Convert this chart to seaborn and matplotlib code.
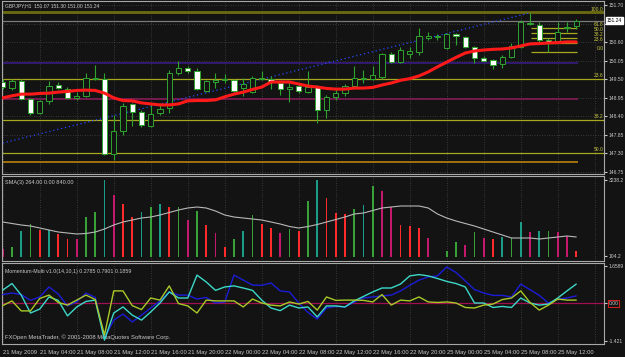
import numpy as np
import matplotlib
matplotlib.use("Agg")
import matplotlib.pyplot as plt
import matplotlib.transforms as mtrans
import seaborn as sns

# ---- data (GBPJPY H1, 21-25 May 2009) ----
opens = [149.42, 149.24, 149.45, 148.92, 148.50, 148.86, 149.33, 149.21, 148.95, 149.01,
         149.51, 149.51, 147.28, 147.97, 148.77, 148.53, 148.12, 148.50, 148.65, 149.69,
         149.84, 149.75, 149.15, 149.42, 149.48, 149.48, 149.24, 149.12, 149.51, 149.51,
         149.39, 149.21, 149.30, 149.12, 149.27, 148.59, 148.98, 149.09, 149.30, 149.51,
         149.51, 149.57, 150.25, 150.01, 150.25, 150.31, 150.73, 150.76, 150.43, 150.84,
         150.76, 150.46, 150.13, 150.07, 149.95, 150.16, 150.46, 151.14, 151.11, 150.67,
         150.61, 151.02, 151.07]
highs = [149.51, 149.51, 149.51, 148.95, 148.89, 149.45, 149.42, 149.27, 149.12, 149.69,
         149.93, 149.69, 148.44, 148.80, 148.80, 148.59, 148.80, 148.80, 149.78, 150.04,
         149.90, 149.84, 149.48, 149.69, 149.66, 149.51, 149.54, 149.60, 149.75, 149.60,
         149.42, 149.42, 149.36, 149.75, 149.33, 149.04, 149.24, 149.36, 149.90, 149.78,
         149.90, 150.28, 150.31, 150.46, 150.46, 151.02, 150.90, 150.84, 150.87, 150.87,
         150.79, 150.49, 150.19, 150.10, 150.22, 150.58, 151.26, 151.47, 151.20, 150.73,
         151.20, 151.20, 151.30]
lows = [149.21, 149.18, 148.89, 148.44, 148.47, 148.77, 149.21, 148.92, 148.89, 148.98,
        149.48, 147.25, 147.11, 147.85, 148.12, 148.09, 148.09, 148.44, 148.50, 149.63,
        149.69, 149.18, 149.12, 149.24, 149.39, 149.12, 149.01, 149.09, 149.48, 149.21,
        149.04, 148.83, 149.09, 149.09, 148.20, 148.35, 148.89, 149.01, 149.27, 149.39,
        149.48, 149.51, 149.98, 149.98, 150.13, 150.22, 150.67, 150.67, 150.40, 150.52,
        150.43, 149.98, 150.04, 149.81, 149.84, 150.13, 150.43, 151.11, 150.61, 150.31,
        150.58, 150.90, 151.00]
closes = [149.27, 149.45, 148.92, 148.50, 148.86, 149.30, 149.24, 148.95, 149.01, 149.54,
          149.54, 147.28, 147.97, 148.71, 148.53, 148.15, 148.47, 148.62, 149.69, 149.84,
          149.75, 149.21, 149.45, 149.48, 149.51, 149.15, 149.36, 149.54, 149.54, 149.42,
          149.21, 149.27, 149.15, 149.27, 148.59, 148.98, 149.09, 149.30, 149.54, 149.54,
          149.63, 150.25, 150.01, 150.37, 150.34, 150.79, 150.79, 150.76, 150.84, 150.79,
          150.46, 150.13, 150.04, 149.93, 150.16, 150.49, 151.20, 151.17, 150.67, 150.61,
          150.90, 151.05, 151.24]

# moving average (red)
ma = [148.95, 149.01, 149.06, 149.06, 149.08, 149.09, 149.12, 149.14, 149.17, 149.18,
      149.17, 149.09, 148.95, 148.87, 148.86, 148.80, 148.77, 148.74, 148.74, 148.77,
      148.86, 148.87, 148.87, 148.89, 148.98, 149.06, 149.12, 149.20, 149.27, 149.42,
      149.42, 149.42, 149.36, 149.30, 149.27, 149.23, 149.21, 149.21, 149.24, 149.24,
      149.26, 149.33, 149.39, 149.47, 149.52, 149.60, 149.72, 149.87, 150.01, 150.15,
      150.28, 150.34, 150.37, 150.39, 150.40, 150.43, 150.49, 150.55, 150.56, 150.58,
      150.59, 150.61, 150.61]

# blue dotted trend line
trend_x = [0, 57]
trend_y = [147.61, 151.47]

# horizontal levels
full_levels = {151.49: ("#6b6b10", 2.0), 151.23: ("#7a7a7a", 0.9)}
short_levels = {149.98: "#3a1c8c", 148.92: "#8c1a5c", 147.06: "#c88a0a"}
big_fib = {"23.6": 149.51, "38.2": 148.29, "50.0": 147.31}
small_fib = {"100.0": 151.49, "61.8": 151.02, "50.0": 150.87, "38.2": 150.73,
             "23.6": 150.58, "0.0": 150.31}

price_ticks = [146.75, 147.30, 147.85, 148.40, 148.95, 149.50, 150.05, 150.60, 151.15, 151.70]

# volume histogram + its SMA
volume = [336, 420, 1092, 1386, 1134, 1134, 966, 756, 756, 1680,
          1890, 3234, 2604, 2226, 1680, 1890, 2100, 2226, 2100, 2100,
          1554, 1932, 1344, 1008, 420, 756, 1092, 1764, 1386, 1218,
          1008, 1176, 1092, 2352, 3234, 2478, 1848, 1806, 2016, 2184,
          2982, 2772, 2100, 1344, 1302, 1218, 798, 0, 252, 630,
          504, 1050, 798, 756, 840, 798, 1470, 1050, 1092, 1092,
          1050, 882, 252]
vol_kind = list("mgtgrtrrmggtmrrtgtrgmgrmrgtgrrmgrgtrrrgtgmmrrrmgggmgmrtgtmtgmmr")
vol_sma = [1470, 1407, 1344, 1302, 1218, 1134, 1050, 1008, 966, 987,
           1050, 1176, 1344, 1470, 1554, 1638, 1680, 1764, 1869, 1974,
           2058, 2100, 2058, 1932, 1764, 1680, 1638, 1596, 1554, 1470,
           1386, 1281, 1218, 1281, 1365, 1470, 1575, 1680, 1806, 1848,
           1953, 2058, 2100, 2142, 2142, 2142, 2058, 1806, 1638, 1512,
           1407, 1302, 1176, 1050, 924, 798, 798, 798, 756, 798,
           840, 882, 840]

# momentum-multi
mom_blue = [0.32, 0.38, 0.32, 0.10, 0.23, 0.61, 0.34, -0.11, 0.04, 0.38,
            0.21, -1.33, -0.65, -0.42, -0.72, -0.46, -0.19, 0.08, 0.42, 0.30,
            0.30, 0.15, 0.21, 0.00, 0.04, 1.06, 0.87, 0.68, 0.67, 0.76,
            0.46, 0.42, 0.00, -0.36, -0.61, -0.19, -0.13, -0.15, 0.04, 0.19,
            0.23, 0.27, 0.30, 0.46, 0.67, 0.87, 0.99, 1.03, 1.37, 1.16,
            0.84, 0.51, 0.38, 0.29, 0.29, 0.23, 0.72, 0.51, 0.29, 0.00,
            0.15, 0.19, 0.27]
mom_cyan = [0.49, 0.74, 0.30, -0.38, -0.23, 0.23, 0.10, -0.49, -0.15, 0.06,
            0.11, -1.41, -0.38, -0.15, -0.46, -0.65, -0.34, 0.00, 0.42, 0.19,
            0.19, 1.06, 0.80, 0.48, 0.61, 0.65, 0.57, 0.48, 0.11, -0.19,
            -0.29, -0.08, -0.19, -0.15, -0.53, -0.11, -0.11, -0.15, 0.08, 0.25,
            0.42, 0.57, 0.57, 0.72, 1.03, 1.08, 1.03, 0.93, 0.82, 0.74,
            0.61, 0.00, 0.00, -0.17, -0.13, -0.17, 0.19, 0.00, -0.08, -0.04,
            0.19, 0.46, 0.72]
mom_yellow = [-0.10, 0.08, -0.30, -0.30, 0.17, 0.30, 0.02, -0.08, 0.11, 0.30,
              0.13, -1.22, 0.46, 0.46, -0.10, -0.25, 0.19, 0.11, 0.65, -0.02,
              -0.11, -0.38, 0.11, 0.08, 0.08, 0.08, -0.15, 0.15, 0.00, -0.08,
              -0.11, 0.04, -0.04, 0.06, -0.27, 0.23, 0.10, 0.11, 0.11, 0.10,
              0.04, 0.32, -0.08, 0.11, 0.08, 0.23, 0.04, 0.02, 0.04, 0.00,
              -0.17, -0.19, -0.08, -0.04, 0.13, 0.19, 0.46, 0.02, -0.27, -0.08,
              0.15, 0.11, 0.11]

time_labels = ["21 May 2009", "21 May 04:00", "21 May 08:00", "21 May 12:00", "21 May 16:00",
               "21 May 20:00", "22 May 00:00", "22 May 04:00", "22 May 08:00", "22 May 12:00",
               "22 May 16:00", "22 May 20:00", "25 May 00:00", "25 May 04:00", "25 May 08:00",
               "25 May 12:00"]

# ---- style ----
bg = "#131313"
fg = "#c8c8c8"
sns.set_style("dark", {"axes.facecolor": bg, "figure.facecolor": bg})
plt.rcParams["font.family"] = ["Liberation Sans", "DejaVu Sans"]

W, H = 625, 357
fig = plt.figure(figsize=(W / 100, H / 100), dpi=100)
fig.patch.set_facecolor(bg)


def panel(top, bottom):
    return fig.add_axes([2 / W, (H - bottom) / H, 602 / W, (bottom - top) / H])


ax1 = panel(1, 174)
ax2 = panel(176, 261)
ax3 = panel(263, 344)

idx = np.arange(len(closes))
xlim = (-0.08, 65.0)
grid_kw = dict(color="#5c5c5c", linewidth=0.5, linestyle=(0, (1, 2.5)))

for ax in (ax1, ax2, ax3):
    ax.set_facecolor(bg)
    ax.set_xlim(*xlim)
    for s in ax.spines.values():
        s.set_color("#a8a8a8")
        s.set_linewidth(0.8)
    ax.yaxis.tick_right()
    ax.tick_params(axis="y", direction="out", length=2, pad=1.5, labelsize=3.6,
                   colors=fg, right=True, left=False)
    for gx in range(0, 65, 4):
        ax.axvline(gx, zorder=0, **grid_kw)
    ax.set_xticks(range(0, 61, 4))

# ---- main price panel ----
ax1.set_ylim(146.69, 151.824)
ax1.set_yticks(price_ticks)
ax1.set_yticklabels([f"{t:.2f}" if t != 151.15 else "" for t in price_ticks])
for t in price_ticks:
    ax1.axhline(t, zorder=0, **grid_kw)
ax1.tick_params(axis="x", length=0, labelbottom=False)

for y, (c, lw) in full_levels.items():
    ax1.hlines(y, xlim[0], xlim[1], color=c, linewidth=lw, zorder=1)
for y, c in short_levels.items():
    ax1.hlines(y, xlim[0], 62.2, color=c, linewidth=1.1, zorder=1)
for lab, y in big_fib.items():
    ax1.hlines(y, xlim[0], xlim[1], color="#a8a820", linewidth=0.9, zorder=1)
    ax1.text(64.95, y + 0.03, lab, color="#c8c840", fontsize=3.6, ha="right", va="bottom")
for lab, y in small_fib.items():
    if lab != "100.0":
        ax1.hlines(y, 57.1, 62.1, color="#a8a820", linewidth=0.9, zorder=1)
    ax1.text(64.95, y + 0.02, lab, color="#c8c840", fontsize=3.6, ha="right", va="bottom")

ax1.plot(trend_x, trend_y, color="#2848ff", linewidth=0.9, linestyle=(0, (1, 2.2)), zorder=2)

green = "#2fa42f"
for i in idx:
    o, h, l, c = opens[i], highs[i], lows[i], closes[i]
    ax1.vlines(i, l, h, color=green, linewidth=0.8, zorder=3)
    face = "white" if c < o else bg
    hgt = c - o if abs(c - o) > 0.01 else 0.015
    ax1.bar(i, hgt, bottom=o, width=0.58, color=face, edgecolor=green,
            linewidth=0.7, zorder=4)

sns.lineplot(x=idx, y=ma, ax=ax1, color="#ff1a1a", linewidth=2.2, zorder=5, legend=False)
ax1.set_xlabel("")
ax1.set_ylabel("")

# current price marker on the axis
tr = mtrans.blended_transform_factory(ax1.transAxes, ax1.transData)
ax1.text(1.004, 151.24, "151.24", transform=tr, fontsize=3.6, color="black", va="center",
         ha="left", bbox=dict(facecolor="white", edgecolor="white", pad=0.6), clip_on=False)
ax1.text(0.005, 0.985, "GBPJPY,H1  151.07 151.30 151.00 151.24", transform=ax1.transAxes,
         fontsize=3.6, color=fg, va="top", ha="left")

# ---- volume panel ----
vol_colors = {"r": "#ff2a2a", "g": "#38a238", "t": "#1a9c88", "m": "#c4186c"}
ax2.set_ylim(-168, 3402)
ax2.bar(idx, volume, width=0.18, color=[vol_colors[k] for k in vol_kind],
        edgecolor="none", linewidth=0, zorder=2)
sns.lineplot(x=idx, y=vol_sma, ax=ax2, color="#b8b8b8", linewidth=0.8, zorder=3, legend=False)
ax2.set_xlabel("")
ax2.set_ylabel("")
ax2.set_yticks([3234, 42])
ax2.set_yticklabels(["3238.2", "104.2"])
ax2.tick_params(axis="x", length=0, labelbottom=False)
ax2.text(0.005, 0.95, "SMA(3) 264.00 0.00 840.00", transform=ax2.transAxes,
         fontsize=4.0, color=fg, va="top", ha="left")

# ---- momentum panel ----
ax3.set_ylim(-1.558, 1.52)
ax3.axhline(0, color="#a01050", linewidth=0.9, zorder=1)
sns.lineplot(x=idx, y=mom_blue, ax=ax3, color="#1c1cd8", linewidth=1.0, zorder=3, legend=False)
sns.lineplot(x=idx, y=mom_cyan, ax=ax3, color="#3cd8c8", linewidth=1.0, zorder=4, legend=False)
sns.lineplot(x=idx, y=mom_yellow, ax=ax3, color="#a8c828", linewidth=1.0, zorder=5, legend=False)
ax3.set_xlabel("")
ax3.set_ylabel("")
ax3.set_yticks([1.406, 0, -1.444])
ax3.set_yticklabels(["1.6589", "0.00", "-1.421"])
for lbl in ax3.get_yticklabels():
    if lbl.get_text() == "0.00":
        lbl.set_bbox(dict(facecolor="none", edgecolor="#ff2020", pad=0.4, linewidth=0.6))
ax3.set_xticks(range(0, 61, 4))
ax3.set_xticklabels(time_labels, fontsize=4.2, color=fg, ha="left")
ax3.tick_params(axis="x", direction="out", length=2, pad=2, colors=fg)
ax3.text(0.005, 0.93, "Momentum-Multi v1.0(14,10,1) 0.2785 0.7901 0.1859",
         transform=ax3.transAxes, fontsize=3.8, color=fg, va="top", ha="left")
ax3.text(0.005, 0.05, "FXOpen MetaTrader, \u00a9 2001-2008 MetaQuotes Software Corp.",
         transform=ax3.transAxes, fontsize=4.2, color=fg, va="bottom", ha="left")

fig.savefig("out.png", dpi=100, facecolor=bg)
